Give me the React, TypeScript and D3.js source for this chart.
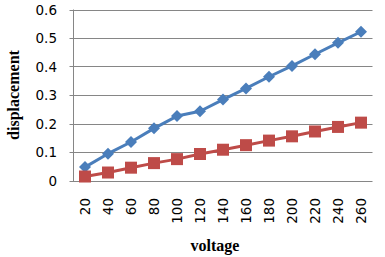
import React from "react";
import * as d3 from "d3";

const categories = ["20", "40", "60", "80", "100", "120", "140", "160", "180", "200", "220", "240", "260"];
const seriesBlue = [0.047, 0.094, 0.135, 0.183, 0.226, 0.243, 0.284, 0.323, 0.364, 0.402, 0.443, 0.483, 0.522];
const seriesRed = [0.014, 0.028, 0.045, 0.061, 0.075, 0.093, 0.108, 0.124, 0.14, 0.155, 0.172, 0.188, 0.203];
const yTicks = [0, 0.1, 0.2, 0.3, 0.4, 0.5, 0.6];

const W = 385, H = 257;
const left = 73.5, right = 372.5, top = 9.5, bottom = 180.5;

export default function App() {
  const x = d3.scaleBand<string>().domain(categories).range([left, right]);
  const y = d3.scaleLinear().domain([0, 0.6]).range([bottom, top]);
  const cx = (c: string) => (x(c) as number) + x.bandwidth() / 2;
  const line = d3.line<number>().x((_, i) => cx(categories[i])).y((d) => y(d));
  const tickFont = "'DejaVu Sans', Verdana, sans-serif";
  const titleFont = "'Liberation Serif', 'Times New Roman', serif";
  const grid = "#868686";
  return (
    <svg width={W} height={H} style={{ position: "absolute", left: 0, top: 0, background: "#fff" }}>
      {yTicks.map((t) => (
        <g key={t}>
          <line x1={left - 4} x2={right} y1={Math.round(y(t)) + 0.5} y2={Math.round(y(t)) + 0.5} stroke={grid} strokeWidth={1} />
          <text x={57} y={y(t) + 5} textAnchor="end" fontFamily={tickFont} fontSize={13.5} fill="#000">
            {t === 0 ? "0" : t.toFixed(1)}
          </text>
        </g>
      ))}
      <line x1={left} x2={left} y1={top} y2={bottom + 0.5} stroke={grid} strokeWidth={1} />
      {categories.map((c) => (
        <text key={c} transform={`translate(${cx(c) + 5},198) rotate(-90)`} textAnchor="end" fontFamily={tickFont} fontSize={13.5} fill="#000">
          {c}
        </text>
      ))}
      <path d={line(seriesBlue) as string} fill="none" stroke="#4A7EBB" strokeWidth={3} strokeLinejoin="round" />
      <path d={line(seriesRed) as string} fill="none" stroke="#BE4B48" strokeWidth={3} strokeLinejoin="round" />
      {seriesBlue.map((v, i) => {
        const px = cx(categories[i]), py = y(v), r = 6;
        return <path key={"b" + i} d={`M${px},${py - r}L${px + r},${py}L${px},${py + r}L${px - r},${py}Z`} fill="#4A7EBB" />;
      })}
      {seriesRed.map((v, i) => {
        const px = cx(categories[i]), py = y(v), s = 12;
        return <rect key={"r" + i} x={px - s / 2} y={py - s / 2} width={s} height={s} fill="#BE4B48" />;
      })}
      <text x={215} y={251} textAnchor="middle" fontFamily={titleFont} fontWeight="bold" fontSize={16} fill="#000">voltage</text>
      <text transform={`translate(19,95) rotate(-90)`} textAnchor="middle" fontFamily={titleFont} fontWeight="bold" fontSize={16} fill="#000">displacement</text>
    </svg>
  );
}
